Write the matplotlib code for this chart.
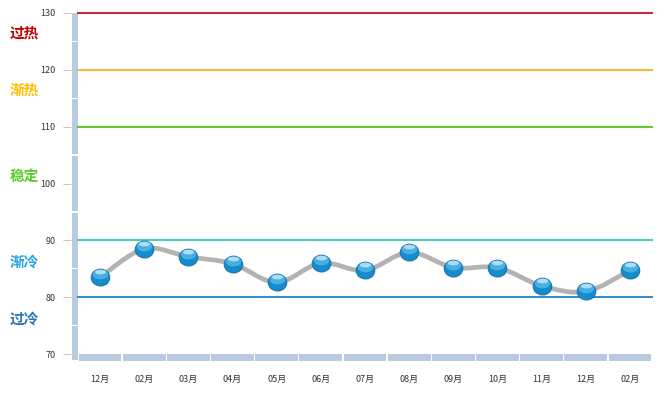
import matplotlib.pyplot as plt
from matplotlib.patches import Rectangle, PathPatch
from matplotlib.path import Path
from matplotlib.transforms import Affine2D, blended_transform_factory
import numpy as np

plt.rcParams['font.family'] = ['Noto Sans CJK SC', 'DejaVu Sans']

months = ["12月", "02月", "03月", "04月", "05月", "06月", "07月",
          "08月", "09月", "10月", "11月", "12月", "02月"]
values = [83.5, 88.5, 87.1, 85.9, 82.6, 86.0, 84.7, 87.9, 85.2, 85.2, 82.0, 81.0, 84.7]

levels = [130, 120, 110, 90, 80]
level_colors = ["#bd2d3c", "#f6b73c", "#62c833", "#4fcdbb", "#3a8ccb"]
zone_names = ["过热", "渐热", "稳定", "渐冷", "过冷"]
zone_y = [126.5, 116.5, 101.3, 86.2, 76.2]
zone_colors = ["#c00000", "#ffc000", "#5fcc2e", "#27a6df", "#2e75b6"]

W, H = 670, 396
fig = plt.figure(figsize=(W / 100, H / 100), dpi=100)
ax = fig.add_axes([78 / W, 1 - 354 / H, 574 / W, 341 / H])

n = len(values)
x = np.arange(n)
ax.set_xlim(-0.5, n - 0.5)
ax.set_ylim(70, 130)

# threshold lines
for lv, c in zip(levels, level_colors):
    ax.axhline(lv, color=c, lw=1.5, zorder=2, clip_on=False)

# zone labels on the left
bt = blended_transform_factory(ax.transAxes, ax.transData)
for name, yv, c in zip(zone_names, zone_y, zone_colors):
    ax.text(-68 / 574, yv, name, transform=bt,
            ha="left", va="center", fontsize=10.5, fontweight="bold", color=c)

# 3D-ish wall and floor
wall_c = "#b9cbdf"
px = 1 / 574
py = 60 / 341
wall_gaps = [75, 85, 95, 105, 115, 125]
edges = [70 - 6.5 * py] + wall_gaps + [130 + 0.6 * py]
for lo, hi in zip(edges[:-1], edges[1:]):
    ax.add_patch(Rectangle((-6.5 * px, lo + 0.6 * py), 6.5 * px, hi - lo - 1.2 * py,
                           transform=bt, fc=wall_c, ec="none", clip_on=False, zorder=1))
fl_lo = 70 - 6.5 * py
for k in range(n):
    x0 = k / n + 0.7 * px
    ax.add_patch(Rectangle((x0, fl_lo), 1 / n - 1.4 * px, 6.5 * py,
                           transform=bt, fc=wall_c, ec="none", clip_on=False, zorder=1))

# smooth line through points (Catmull-Rom as cubic Bezier)
pts = np.column_stack([x, values]).astype(float)
verts = [pts[0]]
codes = [Path.MOVETO]
for i in range(n - 1):
    p0 = pts[i - 1] if i > 0 else pts[i]
    p1, p2 = pts[i], pts[i + 1]
    p3 = pts[i + 2] if i + 2 < n else pts[i + 1]
    c1 = p1 + (p2 - p0) / 6
    c2 = p2 - (p3 - p1) / 6
    verts += [c1, c2, p2]
    codes += [Path.CURVE4] * 3
ax.add_patch(PathPatch(Path(verts, codes), fill=False, ec="#b3b3b3", lw=3.4,
                       capstyle="round", joinstyle="round", zorder=3))


def offset_marker(sx, sy, dx, dy):
    circ = Path.unit_circle()
    v = Affine2D().scale(sx, sy).translate(dx, dy).transform(circ.vertices)
    vv = np.vstack([[[0, -1.0]], [[1.0, 0]], v])
    cc = np.concatenate([[Path.MOVETO, Path.MOVETO], circ.codes])
    return Path(vv, cc)


ms = 13.5
ax.plot(x, values, ls="none", marker=offset_marker(0.95, 0.86, 0.08, -0.16),
        ms=ms, mfc="#000000", mec="none", alpha=0.15, zorder=4)
ax.plot(x, values, ls="none", marker=offset_marker(1.0, 0.9, 0, 0),
        ms=ms, mfc="#168ccc", mec="#0f6ea8", mew=0.6, zorder=5)
ax.plot(x, values, ls="none", marker=offset_marker(0.82, 0.52, 0, 0.32),
        ms=ms, mfc="#4fb4e6", mec="none", alpha=0.9, zorder=6)
ax.plot(x, values, ls="none", marker=offset_marker(0.6, 0.25, 0, 0.58),
        ms=ms, mfc="#bfe6f8", mec="none", alpha=0.85, zorder=7)

# axes styling
for s in ax.spines.values():
    s.set_visible(False)
ax.spines["left"].set_position(("outward", 5))
ax.set_yticks([70, 80, 90, 100, 110, 120, 130])
ax.tick_params(axis="y", length=5.8, width=0.8, color="#c8c8c8", pad=5.5,
               labelsize=6.5, labelcolor="#333333")
ax.set_xticks(x)
ax.set_xticklabels(months)
ax.tick_params(axis="x", length=0, pad=15, labelsize=6.5, labelcolor="#333333")

fig.savefig("out.png", dpi=100)
